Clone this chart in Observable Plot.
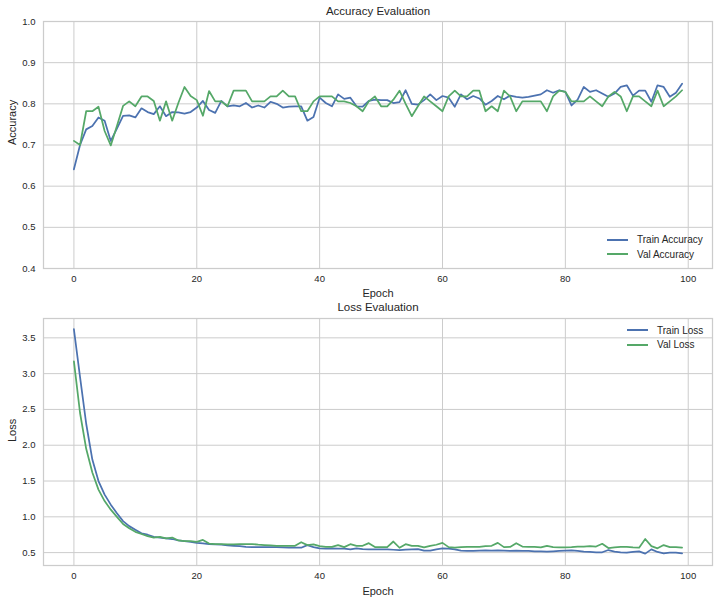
<!DOCTYPE html>
<html><head><meta charset="utf-8">
<script src="https://cdn.jsdelivr.net/npm/d3@7"></script>
<script src="https://cdn.jsdelivr.net/npm/@observablehq/plot@0.6"></script>
<style>
body{margin:0;background:#fff;font-family:"Liberation Sans",Arial,sans-serif}
#wrap{position:relative;width:718px;height:602px}
#wrap svg{display:block}
.leg{position:absolute;font-size:10px;color:#262626;display:flex;align-items:center;height:14px;white-space:nowrap}
.leg .sw{display:inline-block;width:21px;height:0;border-top:2px solid;margin-right:9px}
</style></head>
<body><div id="wrap"></div>
<script>
const epochs = d3.range(100);
const xTicks = [0, 20, 40, 60, 80, 100];
const accTicks = [0.4, 0.5, 0.6, 0.7, 0.8, 0.9, 1.0];
const lossTicks = [0.5, 1.0, 1.5, 2.0, 2.5, 3.0, 3.5];
const seriesNames = ["Train Accuracy", "Val Accuracy", "Train Loss", "Val Loss"];
const colors = {train: "#4C72B0", val: "#55A868"};

const trainAcc = [0.641,0.700,0.738,0.746,0.767,0.759,0.710,0.740,0.771,0.772,
0.767,0.789,0.780,0.775,0.794,0.770,0.780,0.779,0.776,0.780,
0.791,0.807,0.785,0.778,0.807,0.794,0.796,0.794,0.802,0.791,
0.796,0.791,0.805,0.800,0.791,0.793,0.794,0.794,0.759,0.768,
0.815,0.802,0.794,0.823,0.812,0.815,0.794,0.793,0.807,0.810,
0.809,0.809,0.802,0.804,0.833,0.800,0.798,0.809,0.823,0.809,
0.819,0.815,0.793,0.823,0.811,0.819,0.813,0.798,0.807,0.819,
0.811,0.820,0.817,0.815,0.817,0.820,0.823,0.833,0.827,0.833,
0.829,0.796,0.810,0.841,0.829,0.833,0.825,0.817,0.825,0.841,
0.845,0.820,0.832,0.832,0.805,0.845,0.841,0.817,0.827,0.849];

const valAcc = [0.710,0.700,0.782,0.782,0.793,0.734,0.699,0.746,0.795,0.806,
0.794,0.818,0.818,0.807,0.759,0.806,0.759,0.802,0.841,0.819,
0.809,0.771,0.831,0.806,0.806,0.794,0.832,0.832,0.832,0.806,
0.806,0.806,0.818,0.818,0.832,0.818,0.818,0.782,0.782,0.806,
0.818,0.818,0.818,0.806,0.806,0.802,0.794,0.782,0.806,0.818,
0.794,0.794,0.810,0.832,0.800,0.770,0.794,0.818,0.806,0.794,
0.782,0.818,0.832,0.818,0.818,0.832,0.832,0.782,0.794,0.782,
0.832,0.818,0.782,0.806,0.806,0.806,0.806,0.782,0.818,0.832,
0.829,0.806,0.806,0.806,0.818,0.806,0.794,0.818,0.829,0.818,
0.782,0.818,0.818,0.806,0.794,0.832,0.794,0.806,0.818,0.833];

const trainLoss = [3.62,2.95,2.30,1.80,1.50,1.31,1.17,1.05,0.94,0.87,
0.82,0.77,0.75,0.72,0.71,0.70,0.69,0.67,0.66,0.65,
0.636,0.63,0.62,0.615,0.61,0.60,0.595,0.59,0.58,0.578,
0.577,0.577,0.576,0.575,0.573,0.57,0.568,0.568,0.605,0.577,
0.56,0.555,0.56,0.555,0.555,0.545,0.56,0.55,0.545,0.545,
0.545,0.545,0.54,0.536,0.54,0.545,0.55,0.527,0.527,0.545,
0.56,0.555,0.545,0.527,0.523,0.523,0.527,0.532,0.527,0.532,
0.527,0.523,0.527,0.523,0.523,0.518,0.518,0.514,0.518,0.523,
0.527,0.532,0.523,0.514,0.509,0.505,0.505,0.536,0.514,0.505,
0.50,0.509,0.518,0.486,0.545,0.509,0.49,0.50,0.50,0.49];

const valLoss = [3.17,2.45,1.95,1.62,1.38,1.22,1.10,1.00,0.90,0.84,
0.79,0.76,0.73,0.71,0.72,0.70,0.71,0.67,0.66,0.66,
0.65,0.677,0.627,0.62,0.62,0.614,0.614,0.617,0.617,0.62,
0.61,0.605,0.60,0.595,0.595,0.595,0.595,0.645,0.605,0.614,
0.59,0.58,0.58,0.605,0.577,0.618,0.595,0.595,0.632,0.577,
0.577,0.577,0.655,0.568,0.618,0.595,0.595,0.573,0.595,0.61,
0.636,0.577,0.568,0.577,0.58,0.58,0.58,0.59,0.595,0.636,
0.577,0.58,0.632,0.585,0.58,0.58,0.573,0.595,0.577,0.573,
0.573,0.577,0.585,0.585,0.59,0.585,0.623,0.564,0.573,0.58,
0.58,0.573,0.568,0.69,0.59,0.56,0.605,0.577,0.577,0.568];

const fmt1 = d3.format(".1f");
const wrap = document.getElementById("wrap");

function chart({title, ylabel, train, val, yDomain, yTicks, mt, mb, titleDy, xlabDy}) {
  const tr = epochs.map((e, i) => ({epoch: e, value: train[i]}));
  const va = epochs.map((e, i) => ({epoch: e, value: val[i]}));
  return Plot.plot({
    width: 718, height: 301,
    marginTop: mt, marginBottom: mb, marginLeft: 43, marginRight: 6,
    style: {fontFamily: "'Liberation Sans', Arial, sans-serif", fontSize: "9.5px", color: "#262626", background: "white"},
    x: {domain: [-4.95, 103.95]},
    y: {domain: yDomain},
    marks: [
      Plot.gridX(xTicks, {stroke: "#cccccc", strokeOpacity: 1, strokeWidth: 1}),
      Plot.gridY(yTicks, {stroke: "#cccccc", strokeOpacity: 1, strokeWidth: 1}),
      Plot.frame({stroke: "#cccccc", strokeWidth: 1.25}),
      Plot.axisX(xTicks, {tickSize: 0, tickPadding: 7, label: null, fill: "#262626"}),
      Plot.axisY(yTicks, {tickSize: 0, tickPadding: 8, tickFormat: fmt1, label: null, fill: "#262626"}),
      Plot.line(tr, {x: "epoch", y: "value", stroke: colors.train, strokeWidth: 1.75}),
      Plot.line(va, {x: "epoch", y: "value", stroke: colors.val, strokeWidth: 1.75}),
      Plot.text([title], {text: d => d, frameAnchor: "top", lineAnchor: "middle", dy: titleDy, fontSize: 11.5, fill: "#262626"}),
      Plot.text(["Epoch"], {text: d => d, frameAnchor: "bottom", lineAnchor: "middle", dy: xlabDy, fontSize: 11, fill: "#262626"}),
      Plot.text([ylabel], {text: d => d, frameAnchor: "left", lineAnchor: "middle", dx: -31, rotate: -90, fontSize: 11, fill: "#262626"})
    ]
  });
}

wrap.appendChild(chart({title: "Accuracy Evaluation", ylabel: "Accuracy", train: trainAcc, val: valAcc,
  yDomain: [0.4, 1.0], yTicks: accTicks, mt: 21, mb: 33, titleDy: -10, xlabDy: 24.5}));
wrap.appendChild(chart({title: "Loss Evaluation", ylabel: "Loss", train: trainLoss, val: valLoss,
  yDomain: [0.32, 3.77], yTicks: lossTicks, mt: 17, mb: 37, titleDy: -11, xlabDy: 25.5}));

function legend(left, top, label, color) {
  const d = document.createElement("div");
  d.className = "leg";
  d.style.left = left + "px";
  d.style.top = (top - 7) + "px";
  d.innerHTML = `<span class="sw" style="border-color:${color}"></span><span>${label}</span>`;
  wrap.appendChild(d);
}
legend(607, 239.5, seriesNames[0], colors.train);
legend(607, 254, seriesNames[1], colors.val);
legend(627, 330, seriesNames[2], colors.train);
legend(627, 344.5, seriesNames[3], colors.val);
</script>
</body></html>
